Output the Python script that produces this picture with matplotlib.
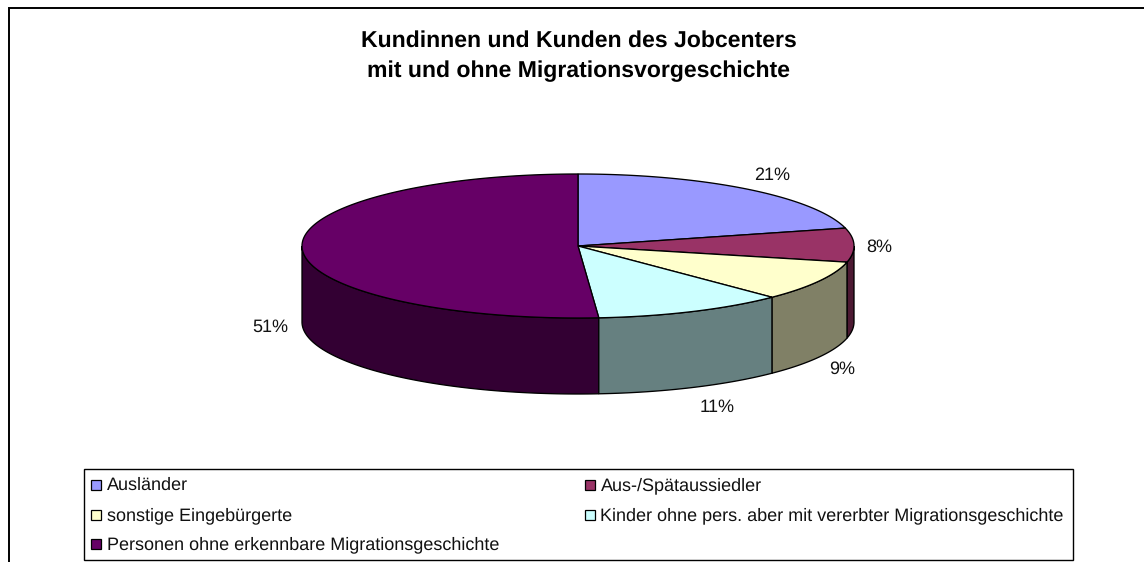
import numpy as np
import matplotlib
matplotlib.use("Agg")
import matplotlib.pyplot as plt
from matplotlib.patches import Polygon, Rectangle

title_lines = ["Kundinnen und Kunden des Jobcenters", "mit und ohne Migrationsvorgeschichte"]
categories = ["Ausländer", "Aus-/Spätaussiedler", "sonstige Eingebürgerte",
              "Kinder ohne pers. aber mit vererbter Migrationsgeschichte",
              "Personen ohne erkennbare Migrationsgeschichte"]
values = [21.0, 7.6, 9.0, 11.2, 51.2]
labels = ["21%", "8%", "9%", "11%", "51%"]
top_colors = ["#9999FF", "#993366", "#FFFFCC", "#CCFFFF", "#660066"]
side_colors = ["#6B6BB3", "#4D1A33", "#808066", "#668080", "#330033"]

W, H = 1144, 562
plt.rcParams["font.family"] = ["Liberation Sans", "DejaVu Sans"]
plt.rcParams["text.hinting"] = "no_hinting"
plt.rcParams["text.hinting_factor"] = 1
fig = plt.figure(figsize=(W / 100, H / 100), dpi=100)
ax = fig.add_axes([0, 0, 1, 1])
ax.set_xlim(0, W)
ax.set_ylim(H, 0)
ax.axis("off")

cx, cy, rx, ry, depth = 578, 246, 276, 72, 76
lw = 0.95

def pt(a):
    return cx + rx * np.cos(a), cy - ry * np.sin(a)

fracs = np.array(values, dtype=float) / sum(values)
edges = np.pi / 2 - 2 * np.pi * np.concatenate([[0], np.cumsum(fracs)])

# side walls: only the visible (lower) half of the rim
for i in [1, 4, 2, 3]:
    a0, a1 = edges[i], edges[i + 1]
    lo, hi = max(a1, -np.pi), min(a0, 0)
    if hi <= lo:
        continue
    t = np.linspace(hi, lo, 120)
    x, y = pt(t)
    verts = np.r_[np.c_[x, y], np.c_[x[::-1], y[::-1] + depth]]
    ax.add_patch(Polygon(verts, closed=True, fc=side_colors[i], ec="black", lw=lw, zorder=2))

# top face
for i in range(len(values)):
    t = np.linspace(edges[i], edges[i + 1], 200)
    x, y = pt(t)
    verts = np.r_[[[cx, cy]], np.c_[x, y]]
    ax.add_patch(Polygon(verts, closed=True, fc=top_colors[i], ec="black", lw=lw, zorder=3))

# frame: left and top edges only, running off the picture
ax.plot([8.5, 8.5, W + 2], [H + 2, 7.5, 7.5], color="black", lw=1.4, zorder=1,
        solid_joinstyle="miter")

# title
for s, by in zip(title_lines, [47, 77]):
    ax.text(578.5, by, s, ha="center", va="baseline", fontsize=16.4, fontweight="bold",
            color="black")

# data labels
label_pos = [(772, 174), (879, 246), (842, 368), (717, 406), (270, 326)]
for s, (lx, ly) in zip(labels, label_pos):
    ax.text(lx, ly + 5.5, s, ha="center", va="baseline", fontsize=13.1, color="#111111")

# legend
ax.add_patch(Rectangle((83.5, 468.5), 989, 91.5, fc="white", ec="black", lw=1.0, zorder=4))
legend_pos = [(91, 485), (584.5, 485), (91, 515), (584.5, 515), (91, 544)]
for s, c, (lx, ly) in zip(categories, top_colors, legend_pos):
    ax.add_patch(Rectangle((lx, ly - 5), 10, 10, fc=c, ec="black", lw=0.9, zorder=5))
    ax.text(lx + 16, ly + 5, s, ha="left", va="baseline", fontsize=13.3, color="#111111", zorder=5)

fig.savefig("out.png", dpi=100, facecolor="white")
